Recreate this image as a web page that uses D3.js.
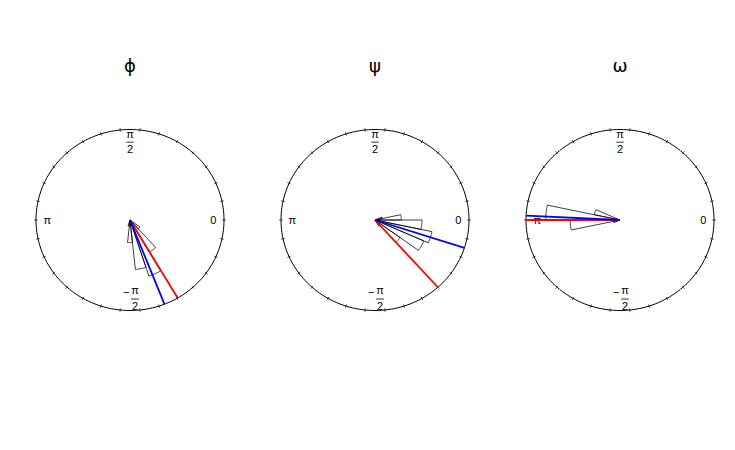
<!doctype html>
<html lang="en">
<head>
  <meta charset="utf-8">
  <style>
    body { margin: 0; background: #fff; }
    text { font-family: "Liberation Sans", Arial, sans-serif; }
  </style>
</head>
<body>
  <script src="https://d3js.org/d3.v7.min.js"></script>
  <div id="chart"></div>
  <script>
    // Panel titles
    var titles = ["\u03d5", "\u03c8", "\u03c9"];

    // Rose bins: start angle (degrees), each bin is 12 degrees wide
    var binWidth = 12;
    var phiStarts = [-108, -96, -84, -72, -60, -48];
    var phiRadii  = [0.07, 0.25, 0.55, 0.65, 0.41, 0.13];
    var psiStarts = [12, 0, -12, -24, -36, -48, -60];
    var psiRadii  = [0.08, 0.28, 0.5, 0.62, 0.57, 0.33, 0.08];
    var omegaStarts = [156, 168, 180, 192];
    var omegaRadii  = [0.28, 0.79, 0.53, 0.07];

    // Mean directions (degrees)
    var redAngles  = [-59.5, -48, 180];
    var blueAngles = [-68.5, -18, 177.2];

    // Tick positions (degrees)
    var tickAngles = d3.range(0, 360, 12);

    var panels = [
      {starts: phiStarts, radii: phiRadii},
      {starts: psiStarts, radii: psiRadii},
      {starts: omegaStarts, radii: omegaRadii}
    ];

    var width = 735, height = 450;
    var centersX = [130, 375, 620];
    var cy = 220, rx = 94, ry = 90.5;

    var svg = d3.select("#chart").append("svg")
      .attr("width", width)
      .attr("height", height);

    var rad = function(d) { return d * Math.PI / 180; };
    var line = d3.line();

    panels.forEach(function(p, k) {
      var cx = centersX[k];
      var x = d3.scaleLinear().domain([-1, 1]).range([cx - rx, cx + rx]);
      var y = d3.scaleLinear().domain([-1, 1]).range([cy + ry, cy - ry]);
      var pt = function(r, a) { return [x(r * Math.cos(rad(a))), y(r * Math.sin(rad(a)))]; };

      var g = svg.append("g");

      // title
      g.append("text")
        .attr("x", x(0)).attr("y", 72)
        .attr("text-anchor", "middle")
        .style("font-family", "DejaVu Sans")
        .style("font-size", "18px")
        .text(titles[k]);

      // circle
      g.append("path")
        .attr("d", line(d3.range(0, 361, 2).map(function(a) { return pt(1, a); })))
        .attr("fill", "none")
        .attr("stroke", "black")
        .attr("stroke-width", 1);

      // ticks
      g.selectAll("line.tick").data(tickAngles).enter()
        .append("line")
        .attr("class", "tick")
        .attr("x1", function(a) { return pt(0.982, a)[0]; })
        .attr("y1", function(a) { return pt(0.982, a)[1]; })
        .attr("x2", function(a) { return pt(1.02, a)[0]; })
        .attr("y2", function(a) { return pt(1.02, a)[1]; })
        .attr("stroke", "black")
        .attr("stroke-width", 0.7);

      // axis labels
      var lab = g.append("g").style("font-size", "11px").attr("text-anchor", "middle");
      lab.append("text").attr("x", x(0.885)).attr("y", y(0) + 4).text("0");
      lab.append("text").attr("x", x(-0.88)).attr("y", y(0) + 4).text("\u03c0");
      // pi / 2 at the top
      lab.append("text").attr("x", x(0)).attr("y", y(0.91)).text("\u03c0");
      lab.append("line").attr("x1", x(-0.04)).attr("x2", x(0.04))
        .attr("y1", y(0.86)).attr("y2", y(0.86)).attr("stroke", "black").attr("stroke-width", 0.8);
      lab.append("text").attr("x", x(0)).attr("y", y(0.74)).text("2");
      // -pi / 2 at the bottom
      lab.append("text").attr("x", x(-0.04)).attr("y", y(-0.84)).text("\u2212");
      lab.append("text").attr("x", x(0.053)).attr("y", y(-0.82)).text("\u03c0");
      lab.append("line").attr("x1", x(0.012)).attr("x2", x(0.094))
        .attr("y1", y(-0.873)).attr("y2", y(-0.873)).attr("stroke", "black").attr("stroke-width", 0.8);
      lab.append("text").attr("x", x(0.053)).attr("y", y(-0.995)).text("2");

      // rose wedges
      g.selectAll("path.wedge").data(p.starts).enter()
        .append("path")
        .attr("class", "wedge")
        .attr("d", function(s, i) {
          var r = p.radii[i];
          var pts = [pt(0, 0)];
          d3.range(0, 13).forEach(function(j) { pts.push(pt(r, s + j * binWidth / 12)); });
          pts.push(pt(0, 0));
          return line(pts);
        })
        .attr("fill", "none")
        .attr("stroke", "black")
        .attr("stroke-width", 0.75);

      // mean direction lines
      [[redAngles[k], "#ff0000"], [blueAngles[k], "#0000ff"]].forEach(function(m) {
        g.append("line")
          .attr("x1", x(0)).attr("y1", y(0))
          .attr("x2", pt(1, m[0])[0]).attr("y2", pt(1, m[0])[1])
          .attr("stroke", m[1])
          .attr("stroke-width", 1.8);
      });
    });
  </script>
</body>
</html>
